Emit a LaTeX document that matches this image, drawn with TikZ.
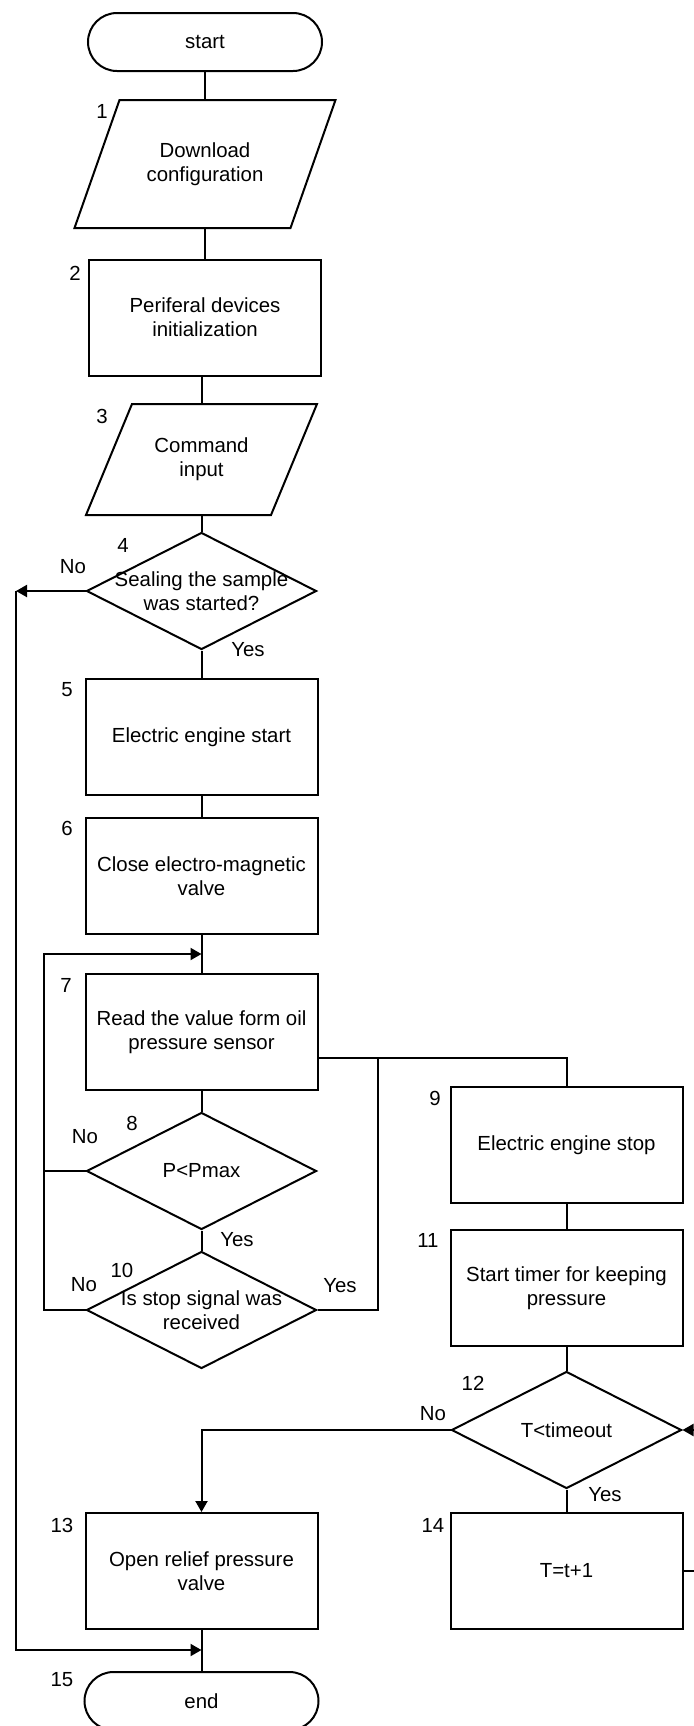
\documentclass[tikz,border=0pt]{standalone}
\usepackage{fontspec}
\setmainfont{Liberation Sans}
\usetikzlibrary{shapes.geometric,arrows.meta}

\begin{document}
\begin{tikzpicture}[x=0.5pt,y=-0.5pt,line width=1pt,
  font=\fontsize{10.2}{12}\selectfont,
  term/.style={draw,rectangle,rounded corners=14.5pt,minimum width=117pt,minimum height=29pt},
  io/.style={rectangle,outer sep=0pt,align=center},
  proc/.style={draw,rectangle,minimum width=116pt,minimum height=58pt,align=center},
  decis/.style={draw,diamond,minimum width=115pt,minimum height=58.5pt,inner sep=0pt},
  txt/.style={align=center,inner sep=0pt},
  arr/.style={-{Triangle[length=5.5pt,width=6pt]}}]
\useasboundingbox (0,0) rectangle (694,1726);

% left column
\node[term] (start) at (205,42) {start};
\node[io,minimum width=108pt,minimum height=64pt] (in1) at (205,164) {Download\\configuration};
\draw ([xshift=11.25pt]in1.north west) -- ([xshift=11.25pt]in1.north east)
  -- ([xshift=-11.25pt]in1.south east) -- ([xshift=-11.25pt]in1.south west) -- cycle;
\node[proc] (b2) at (205,317.5) {Periferal devices\\initialization};
\node[io,minimum width=92.5pt,minimum height=55.5pt] (in3) at (201.5,459.5) {Command\\input};
\draw ([xshift=11.5pt]in3.north west) -- ([xshift=11.5pt]in3.north east)
  -- ([xshift=-11.5pt]in3.south east) -- ([xshift=-11.5pt]in3.south west) -- cycle;
\node[decis] (d4) at (201.5,591) {};
\node[txt] (d4t) at (d4) {Sealing the sample\\was started?};
\node[proc] (b5) at (201.5,737) {Electric engine start};
\node[proc] (b6) at (201.5,876) {Close electro-magnetic\\valve};
\node[proc] (b7) at (201.5,1032) {Read the value form oil\\pressure sensor};
\node[decis] (d8) at (201.5,1171) {};
\node[txt] (d8t) at (d8) {P<Pmax};
\node[decis] (d10) at (201.5,1310) {};
\node[txt] (d10t) at (d10) {Is stop signal was\\received};
\node[proc] (b13) at (201.5,1571) {Open relief pressure\\valve};
\node[term] (end) at (201.5,1701) {end};

% right column
\node[proc] (b9) at (566.5,1145) {Electric engine stop};
\node[proc] (b11) at (566.5,1288) {Start timer for keeping\\pressure};
\node[decis] (d12) at (566.5,1430) {};
\node[txt] (d12t) at (d12) {T<timeout};
\node[proc] (b14) at (566.5,1571) {T=t+1};

% step numbers
\foreach \n/\x/\y in {1/102/111,2/75/273,3/102/416,4/123/545,5/67/690,6/67/828,
  7/66/985,8/132/1123,9/435/1098,10/122/1270,11/428/1240,12/473/1383,
  13/62/1525,14/433/1525,15/62/1680}
  \node[txt] (n\n) at (\x,\y) {\n};

% branch labels
\node[txt] (no4) at (73,567) {No};
\node[txt] (yes4) at (248,650) {Yes};
\node[txt] (no8) at (85,1137) {No};
\node[txt] (yes8) at (237,1240) {Yes};
\node[txt] (no10) at (84,1285) {No};
\node[txt] (yes10) at (340,1286) {Yes};
\node[txt] (no12) at (433,1414) {No};
\node[txt] (yes12) at (605,1495) {Yes};

\coordinate (outL) at (16,591);
\coordinate (outB) at (16,1650);
\coordinate (loopT) at (44,954);
\coordinate (j1) at (378,1058);
\coordinate (rt) at (710,1500);

% main flow
\draw (start) -- (in1);
\draw (in1) -- (b2);
\draw (b2.south -| in3.north) -- (in3.north);
\draw (in3) -- (d4);
\draw (d4) -- (b5);
\draw (b5) -- (b6);
\draw (b6) -- (b7);
\draw (b7) -- (d8);
\draw (d8) -- (d10);
\draw (b13) -- (end);
\draw (b9) -- (b11);
\draw (b11) -- (d12);
\draw (d12) -- (b14);

% loops and branches
\draw[arr] (d4.west) -- (outL);
\draw[arr] (outL) -- (outB) -- (outB -| end.north);
\draw (d8.west) -- (d8.west -| loopT);
\draw[arr] (d10.west) -| (loopT) -- (loopT -| b7.north);
\draw (d10.east) -| (j1);
\draw (b7.east |- j1) -- (j1) -| (b9.north);
\draw[arr] (d12.west) -| (b13.north);
\draw[arr] (b14.east) -| (rt) |- (d12.east);
\end{tikzpicture}
\end{document}
